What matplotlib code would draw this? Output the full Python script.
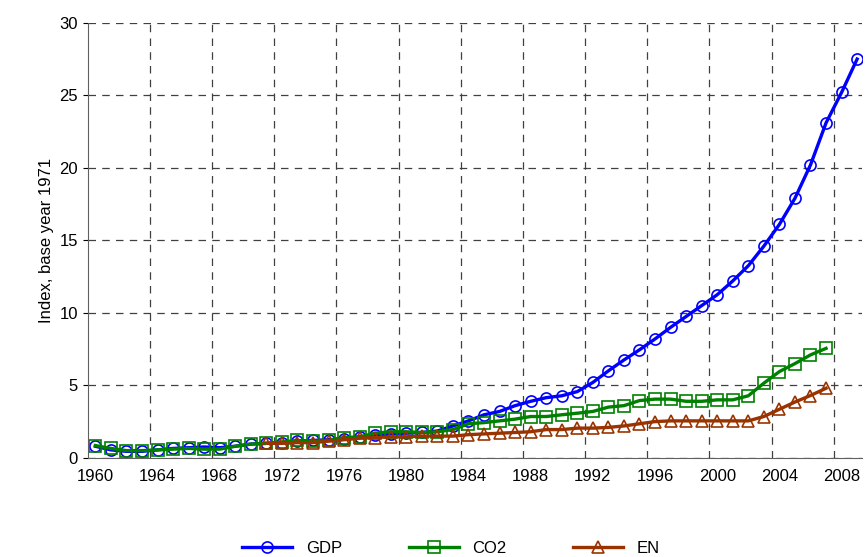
import numpy as np
import matplotlib.pyplot as plt

plt.rcParams['font.family'] = ['Liberation Sans', 'DejaVu Sans']

years_gdp = list(range(1960, 2010))
gdp = [0.8, 0.55, 0.45, 0.45, 0.55, 0.65, 0.7, 0.75, 0.7, 0.8,
       0.95, 1.0, 1.05, 1.15, 1.2, 1.25, 1.3, 1.45, 1.55, 1.65,
       1.7, 1.75, 1.85, 2.2, 2.55, 2.97, 3.2, 3.6, 3.9, 4.15,
       4.28, 4.57, 5.2, 6.0, 6.75, 7.45, 8.2, 9.0, 9.75, 10.5,
       11.25, 12.2, 13.25, 14.6, 16.1, 17.9, 20.2, 23.1, 25.2, 27.5]

years_co2 = list(range(1960, 2008))
co2 = [0.85, 0.65, 0.5, 0.5, 0.55, 0.6, 0.65, 0.6, 0.6, 0.8,
       0.95, 1.0, 1.1, 1.2, 1.15, 1.2, 1.4, 1.45, 1.7, 1.8,
       1.8, 1.75, 1.8, 1.95, 2.35, 2.43, 2.55, 2.67, 2.85, 2.85,
       2.97, 3.08, 3.2, 3.5, 3.6, 3.95, 4.05, 4.05, 3.9, 3.9,
       4.0, 4.0, 4.28, 5.15, 5.95, 6.5, 7.1, 7.55]

years_en = list(range(1971, 2008))
en = [1.0, 1.0, 1.05, 1.05, 1.15, 1.25, 1.35, 1.4, 1.45, 1.45,
      1.5, 1.5, 1.5, 1.6, 1.65, 1.7, 1.75, 1.8, 1.95, 1.95,
      2.05, 2.05, 2.1, 2.2, 2.35, 2.5, 2.55, 2.55, 2.55, 2.55,
      2.55, 2.55, 2.85, 3.35, 3.85, 4.3, 4.8]

fig = plt.figure(figsize=(8.67, 5.57), dpi=100)
ax = fig.add_axes([0.101, 0.178, 0.893, 0.781])

series = [(years_gdp, gdp, '#0000FF', 'o', 'GDP'),
          (years_co2, co2, '#008000', 's', 'CO2'),
          (years_en, en, '#993300', '^', 'EN')]
for x, y, c, m, lab in series:
    ax.plot(x, y, color=c, lw=2.4, marker=m, ms=8, mfc='none', mec=c,
            mew=1.2, label=lab)

ax.set_xlim(1959.5, 2009.3)
ax.set_ylim(0, 30)
ax.set_yticks(range(0, 31, 5))
ax.set_xticks(range(1960, 2009, 4))
ax.tick_params(axis='x', length=0, labelsize=12, pad=8)
ax.tick_params(axis='y', labelsize=12)
for yr in range(1963, 2009, 4):
    ax.axvline(yr + 0.5, color='#404040', lw=0.9, ls=(0, (6, 5)), zorder=0)
ax.yaxis.grid(True, color='#404040', lw=0.9, ls=(0, (6, 5)))
ax.set_axisbelow(True)
for s in ['top', 'right']:
    ax.spines[s].set_visible(False)
ax.spines['bottom'].set_color('#606060')
ax.spines['left'].set_color('#606060')
ax.set_ylabel('Index, base year 1971', fontsize=12)

fig.legend(loc='lower center', bbox_to_anchor=(0.52, -0.025), ncol=3,
           frameon=False, fontsize=12, columnspacing=4, handlelength=3)

fig.savefig('out.png', dpi=100)
